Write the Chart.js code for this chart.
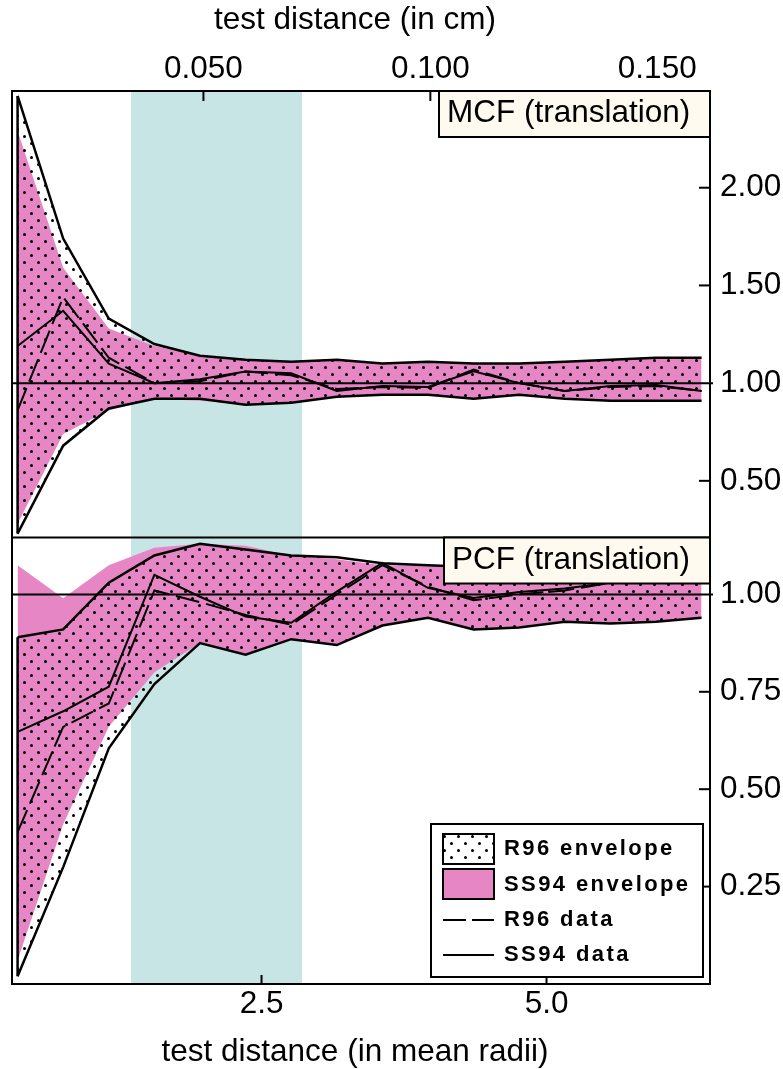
<!DOCTYPE html>
<html>
<head>
<meta charset="utf-8">
<script src="https://cdn.jsdelivr.net/npm/chart.js@4.4.1/dist/chart.umd.min.js"></script>
<style>
  html, body { margin: 0; padding: 0; background: #fff; }
  canvas { display: block; }
</style>
</head>
<body>
<canvas id="c" width="783" height="1069"></canvas>
<script>
// Test distances (in mean grain radii) at which both statistics were evaluated
const distances = [0.36, 0.76, 1.16, 1.56, 1.96, 2.36, 2.76, 3.16, 3.56, 3.96, 4.36, 4.76, 5.16, 5.56, 5.96, 6.36];

// MCF (translation): simulation envelopes and measured data
const mcfR96EnvHigh  = [2.47, 1.74, 1.33, 1.20, 1.14, 1.12, 1.11, 1.12, 1.10, 1.11, 1.10, 1.10, 1.11, 1.12, 1.13, 1.13];
const mcfR96EnvLow   = [0.23, 0.68, 0.87, 0.92, 0.92, 0.89, 0.90, 0.93, 0.94, 0.94, 0.92, 0.94, 0.92, 0.91, 0.91, 0.91];
const mcfSS94EnvHigh = [2.29, 1.59, 1.28, 1.19, 1.14, 1.12, 1.11, 1.12, 1.10, 1.11, 1.10, 1.10, 1.11, 1.12, 1.13, 1.13];
const mcfSS94EnvLow  = [0.28, 0.74, 0.86, 0.92, 0.91, 0.89, 0.90, 0.93, 0.94, 0.94, 0.92, 0.94, 0.92, 0.91, 0.91, 0.91];
const mcfR96Data     = [0.86, 1.44, 1.13, 1.00, 1.01, 1.06, 1.04, 0.97, 0.98, 0.975, 1.07, 1.00, 0.96, 0.98, 0.985, 0.96];
const mcfSS94Data    = [1.19, 1.37, 1.10, 1.00, 1.02, 1.06, 1.05, 0.96, 0.985, 0.98, 1.06, 1.00, 0.96, 0.985, 0.99, 0.96];

// PCF (translation): simulation envelopes and measured data
const pcfR96EnvHigh  = [0.89, 0.91, 1.03, 1.10, 1.13, 1.115, 1.10, 1.095, 1.08, 1.075, 1.07, 1.07, 1.07, 1.07, 1.065, 1.065];
const pcfR96EnvLow   = [0.02, 0.30, 0.605, 0.77, 0.875, 0.845, 0.885, 0.87, 0.92, 0.94, 0.91, 0.915, 0.93, 0.925, 0.93, 0.94];
const pcfSS94EnvHigh = [1.075, 0.99, 1.075, 1.12, 1.13, 1.125, 1.10, 1.09, 1.075, 1.075, 1.07, 1.07, 1.07, 1.07, 1.065, 1.065];
const pcfSS94EnvLow  = [0.06, 0.41, 0.66, 0.80, 0.875, 0.845, 0.885, 0.87, 0.92, 0.94, 0.91, 0.915, 0.93, 0.925, 0.93, 0.94];
const pcfR96Data     = [0.39, 0.66, 0.72, 1.01, 0.98, 0.947, 0.922, 1.00, 1.075, 1.02, 0.985, 1.00, 1.01, 1.03, 1.04, 1.04];
const pcfSS94Data    = [0.647, 0.70, 0.763, 1.05, 0.994, 0.943, 0.927, 1.007, 1.081, 1.017, 0.991, 1.006, 1.015, 1.03, 1.04, 1.04];

// Axis ticks and ranges
const radiiTicks = [2.5, 5.0];
const cmTicks = [0.050, 0.100, 0.150];
const mcfTicks = [0.50, 1.00, 1.50, 2.00];
const pcfTicks = [0.25, 0.50, 0.75, 1.00];
const radiiRange = [0.311, 6.434];
const mcfRange = [0.21, 2.495];
const pcfRange = [0.0, 1.146];
const MEAN_RADIUS_CM = 0.02512;   // one mean radius expressed in cm
const fitBand = [1.355, 2.855];   // shaded distance range, mean radii
const referenceLevel = 1.0;

const panelLabels = ['MCF (translation)', 'PCF (translation)'];
const legendLabels = ['R96 envelope', 'SS94 envelope', 'R96 data', 'SS94 data'];
const xTitleBottom = 'test distance (in mean radii)';
const xTitleTop = 'test distance (in cm)';

// Styling
const FONT = "'Liberation Sans', Arial, Helvetica, sans-serif";
const TEXT_SIZE = 31.5;
const PINK = 'rgb(231,134,197)';
const BAND = 'rgb(199,229,229)';
const CREAM = 'rgb(255,250,240)';
const NONE = 'rgba(0,0,0,0)';

Chart.defaults.font.family = FONT;
Chart.defaults.color = '#000';

const canvas = document.getElementById('c');
const ctx = canvas.getContext('2d');

// Stippled fill used for the R96 envelope
function makeDots() {
  const tile = document.createElement('canvas');
  tile.width = 14; tile.height = 14;
  const g = tile.getContext('2d');
  g.fillStyle = '#000';
  for (const [cx, cy] of [[3.5, 3.5], [10.5, 10.5]]) {
    g.beginPath(); g.arc(cx, cy, 1.5, 0, Math.PI * 2); g.fill();
  }
  return ctx.createPattern(tile, 'repeat');
}
const DOTS = makeDots();

const series = ys => distances.map((x, i) => ({ x, y: ys[i] }));
const firstEdge = (hi, lo) => [{ x: distances[0], y: hi[0] }, { x: distances[0], y: lo[0] }];

function panelDatasets(yAxisID, r96Hi, r96Lo, ss94Hi, ss94Lo, r96Data, ss94Data) {
  const base = { xAxisID: 'x', yAxisID, pointRadius: 0, tension: 0 };
  return [
    { ...base, label: 'SS94 envelope', data: series(ss94Hi), fill: '+1', backgroundColor: PINK, borderColor: NONE, borderWidth: 0, order: 10 },
    { ...base, label: 'SS94 envelope low', data: series(ss94Lo), fill: false, borderColor: NONE, borderWidth: 0, order: 10 },
    { ...base, label: 'R96 envelope', data: series(r96Hi), fill: '+1', backgroundColor: DOTS, borderColor: '#000', borderWidth: 2.5, order: 8 },
    { ...base, label: 'R96 envelope low', data: series(r96Lo), fill: false, borderColor: '#000', borderWidth: 2.5, order: 8 },
    { ...base, label: 'R96 envelope edge', data: firstEdge(r96Hi, r96Lo), fill: false, borderColor: '#000', borderWidth: 2.5, order: 8 },
    { ...base, label: 'R96 data', data: series(r96Data), fill: false, borderColor: '#000', borderWidth: 2, borderDash: [24, 7], order: 1 },
    { ...base, label: 'SS94 data', data: series(ss94Data), fill: false, borderColor: '#000', borderWidth: 2, order: 1 }
  ];
}

const fixedTicks = values => scale => { scale.ticks = values.map(v => ({ value: v })); };
const tickFont = { size: TEXT_SIZE, lineHeight: 1 };
const hiddenGrid = { display: false, drawTicks: false };

function line(c, x1, y1, x2, y2) {
  c.beginPath(); c.moveTo(x1, y1); c.lineTo(x2, y2); c.stroke();
}

function tagBox(c, text, right, top) {
  c.font = `${TEXT_SIZE}px ${FONT}`;
  const w = c.measureText(text).width;
  const left = Math.round(right - w - 20 - 8);
  c.fillStyle = CREAM;
  c.fillRect(left, top, right - left, 46);
  c.strokeStyle = '#000'; c.lineWidth = 2;
  c.strokeRect(left, top, right - left, 46);
  c.fillStyle = '#000'; c.textBaseline = 'alphabetic'; c.textAlign = 'left';
  c.fillText(text, left + 8, top + 31);
}

function drawLegend(c, ca) {
  const W = 272, H = 153;
  const L = ca.right - 7 - W, T = ca.bottom - 7 - H;
  c.fillStyle = '#fff'; c.fillRect(L, T, W, H);
  c.strokeStyle = '#000'; c.lineWidth = 2; c.strokeRect(L, T, W, H);
  const sx = L + 12, sw = 51;
  // envelope swatches
  c.fillStyle = '#fff'; c.fillRect(sx, T + 10, sw, 30);
  c.fillStyle = DOTS; c.fillRect(sx, T + 10, sw, 30);
  c.strokeRect(sx, T + 10, sw, 30);
  c.fillStyle = PINK; c.fillRect(sx, T + 45, sw, 30);
  c.strokeRect(sx, T + 45, sw, 30);
  // data line samples
  c.lineWidth = 2;
  c.setLineDash([23, 6]); line(c, sx, T + 96, sx + sw, T + 96);
  c.setLineDash([]); line(c, sx, T + 131, sx + sw, T + 131);
  // labels
  c.font = `bold 22px ${FONT}`;
  if ('letterSpacing' in c) c.letterSpacing = '2.4px';
  c.fillStyle = '#000'; c.textBaseline = 'middle'; c.textAlign = 'left';
  const rows = [25, 61, 96, 131];
  legendLabels.forEach((t, i) => c.fillText(t, L + 73, T + rows[i]));
  if ('letterSpacing' in c) c.letterSpacing = '0px';
}

const panelDecor = {
  id: 'panelDecor',
  beforeDatasetsDraw(chart) {
    const { ctx: c, chartArea: ca, scales } = chart;
    const x0 = scales.x.getPixelForValue(fitBand[0]);
    const x1 = scales.x.getPixelForValue(fitBand[1]);
    c.save();
    c.fillStyle = BAND;
    c.fillRect(x0, ca.top, x1 - x0, ca.bottom - ca.top);
    c.restore();
  },
  afterDatasetsDraw(chart) {
    const { ctx: c, chartArea: ca, scales } = chart;
    c.save();
    c.strokeStyle = '#000';
    c.lineWidth = 2;
    // reference level in each panel
    for (const id of ['yTop', 'yBot']) {
      const y = scales[id].getPixelForValue(referenceLevel);
      line(c, ca.left, y, ca.right + 3, y);
    }
    // inward tick marks
    for (const t of scales.x.ticks) {
      const px = scales.x.getPixelForValue(t.value);
      line(c, px, ca.bottom, px, ca.bottom - 9);
    }
    for (const t of scales.x2.ticks) {
      const px = scales.x2.getPixelForValue(t.value);
      line(c, px, ca.top, px, ca.top + 10);
    }
    for (const id of ['yTop', 'yBot']) {
      for (const t of scales[id].ticks) {
        if (t.value === referenceLevel) continue;
        const py = scales[id].getPixelForValue(t.value);
        line(c, ca.right - 11, py, ca.right, py);
      }
    }
    // frame around both panels and the divider between them
    c.strokeRect(ca.left, ca.top, ca.right - ca.left, ca.bottom - ca.top);
    line(c, ca.left, scales.yTop.bottom, ca.right, scales.yTop.bottom);
    c.restore();
  },
  afterDraw(chart) {
    const { ctx: c, chartArea: ca, scales } = chart;
    c.save();
    tagBox(c, panelLabels[0], ca.right, scales.yTop.top);
    tagBox(c, panelLabels[1], ca.right, scales.yBot.top);
    drawLegend(c, ca);
    // axis titles, centred a little left of the plot centre
    c.font = `${TEXT_SIZE}px ${FONT}`;
    c.fillStyle = '#000'; c.textAlign = 'center'; c.textBaseline = 'alphabetic';
    const cx = (ca.left + ca.right) / 2 - 6;
    c.fillText(xTitleTop, cx, scales.x2.top + 29);
    c.fillText(xTitleBottom, cx, scales.x.bottom - 8);
    c.restore();
  }
};

new Chart(ctx, {
  type: 'line',
  data: {
    datasets: [
      ...panelDatasets('yTop', mcfR96EnvHigh, mcfR96EnvLow, mcfSS94EnvHigh, mcfSS94EnvLow, mcfR96Data, mcfSS94Data),
      ...panelDatasets('yBot', pcfR96EnvHigh, pcfR96EnvLow, pcfSS94EnvHigh, pcfSS94EnvLow, pcfR96Data, pcfSS94Data)
    ]
  },
  options: {
    responsive: false,
    animation: false,
    devicePixelRatio: 1,
    events: [],
    layout: { padding: { left: 12, right: 0, top: 0, bottom: 0 } },
    elements: { line: { borderJoinStyle: 'miter' } },
    plugins: { legend: { display: false }, tooltip: { enabled: false } },
    scales: {
      x: {
        type: 'linear', position: 'bottom',
        min: radiiRange[0], max: radiiRange[1],
        afterBuildTicks: fixedTicks(radiiTicks),
        afterFit: s => { s.height = 85; },
        grid: hiddenGrid, border: { display: false },
        ticks: { font: tickFont, padding: 5, maxRotation: 0, autoSkip: false, callback: v => Number(v).toFixed(1) },
        title: { display: false, text: xTitleBottom }
      },
      x2: {
        type: 'linear', position: 'top',
        min: radiiRange[0] * MEAN_RADIUS_CM, max: radiiRange[1] * MEAN_RADIUS_CM,
        afterBuildTicks: fixedTicks(cmTicks),
        afterFit: s => { s.height = 91; },
        grid: hiddenGrid, border: { display: false },
        ticks: { font: tickFont, padding: 6, maxRotation: 0, autoSkip: false, callback: v => Number(v).toFixed(3) },
        title: { display: false, text: xTitleTop }
      },
      yTop: {
        type: 'linear', position: 'right', stack: 'panels', stackWeight: 1,
        min: mcfRange[0], max: mcfRange[1],
        afterBuildTicks: fixedTicks(mcfTicks),
        afterFit: s => { s.width = 73; },
        grid: hiddenGrid, border: { display: false },
        ticks: { font: tickFont, padding: 10, autoSkip: false, callback: v => Number(v).toFixed(2) }
      },
      yBot: {
        type: 'linear', position: 'right', stack: 'panels', stackWeight: 1,
        min: pcfRange[0], max: pcfRange[1],
        afterBuildTicks: fixedTicks(pcfTicks),
        afterFit: s => { s.width = 73; },
        grid: hiddenGrid, border: { display: false },
        ticks: { font: tickFont, padding: 10, autoSkip: false, callback: v => Number(v).toFixed(2) }
      }
    }
  },
  plugins: [panelDecor]
});
</script>
</body>
</html>
